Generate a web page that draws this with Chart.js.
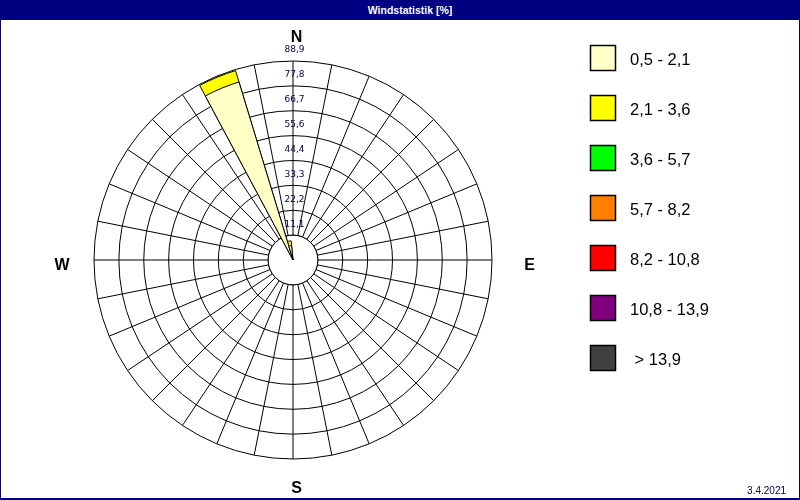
<!DOCTYPE html>
<html><head><meta charset="utf-8">
<script src="https://cdn.jsdelivr.net/npm/chart.js@4.4.1/dist/chart.umd.min.js"></script>
<style>
html,body{margin:0;padding:0;background:#fff;}
#frame{position:relative;width:800px;height:500px;background:#000080;overflow:hidden;}
#title{position:absolute;left:10px;top:0;width:800px;height:20px;color:#fff;font:bold 10.5px 'Liberation Sans',Arial,sans-serif;line-height:20px;text-align:center;}
#plot{position:absolute;left:1px;top:20px;width:798px;height:478px;background:#fff;}
canvas{display:block;}
</style></head><body>
<div id="frame"><div id="title">Windstatistik [%]</div><div id="plot"><canvas id="c" width="798" height="478"></canvas></div></div>
<script>
// 32 wind directions (degrees, clockwise from north)
const directions = ['0','11.25','22.5','33.75','45','56.25','67.5','78.75','90','101.25','112.5','123.75','135','146.25','157.5','168.75',
  '180','191.25','202.5','213.75','225','236.25','247.5','258.75','270','281.25','292.5','303.75','315','326.25','337.5','348.75'];
const compassLabels = ['N','E','S','W'];
const ringValues = [11.11, 22.22, 33.33, 44.44, 55.56, 66.67, 77.78, 88.89];
const ringLabels = ['11,1','22,2','33,3','44,4','55,6','66,7','77,8','88,9'];
const classLabels = ['0,5 - 2,1','2,1 - 3,6','3,6 - 5,7','5,7 - 8,2','8,2 - 10,8','10,8 - 13,9',' > 13,9'];
const classColors = ['#ffffc6','#ffff00','#00ff00','#ff8000','#ff0000','#800080','#404040'];
// frequency [%] per direction for each wind-speed class
const class1 = [0,0,0,0,0,0,0,0,0,0,0,0,0,0,0,0,0,0,0,0,0,0,0,0,0,0,0,0,0,0,83.1,6.5];
const class2 = [0,0,0,0,0,0,0,0,0,0,0,0,0,0,0,0,0,0,0,0,0,0,0,0,0,0,0,0,0,0,5.3,2.1];
const class3 = [0,0,0,0,0,0,0,0,0,0,0,0,0,0,0,0,0,0,0,0,0,0,0,0,0,0,0,0,0,0,0,0];
const class4 = [0,0,0,0,0,0,0,0,0,0,0,0,0,0,0,0,0,0,0,0,0,0,0,0,0,0,0,0,0,0,0,0];
const class5 = [0,0,0,0,0,0,0,0,0,0,0,0,0,0,0,0,0,0,0,0,0,0,0,0,0,0,0,0,0,0,0,0];
const class6 = [0,0,0,0,0,0,0,0,0,0,0,0,0,0,0,0,0,0,0,0,0,0,0,0,0,0,0,0,0,0,0,0];
const class7 = [0,0,0,0,0,0,0,0,0,0,0,0,0,0,0,0,0,0,0,0,0,0,0,0,0,0,0,0,0,0,0,0];
const dateText = '3.4.2021';

const classes = [class1, class2, class3, class4, class5, class6, class7];
// stacked (cumulative) values; dataset 0 is drawn on top by Chart.js
const cum = directions.map(() => 0);
const datasets = classes.map((arr, k) => {
  const data = arr.map((v, i) => { cum[i] += v; return v > 0 ? cum[i] : 0; });
  return {
    label: classLabels[k], data, rAxisID: 'r',
    backgroundColor: classColors[k], borderColor: '#000000', borderWidth: 1
  };
});

const FONT = "'Liberation Sans', Arial, sans-serif";

const roseExtras = {
  id: 'roseExtras',
  beforeDatasetsDraw(chart) {
    const s = chart.scales.r, ctx = chart.ctx;
    const r0 = s.getDistanceFromCenterForValue(ringValues[0]);
    ctx.save();
    ctx.beginPath();
    ctx.arc(s.xCenter, s.yCenter, r0, 0, Math.PI * 2);
    ctx.fillStyle = '#ffffff';
    ctx.fill();
    ctx.strokeStyle = '#000000';
    ctx.lineWidth = 1;
    ctx.stroke();
    ctx.restore();
  },
  afterDatasetsDraw(chart) {
    const s = chart.scales.r, ctx = chart.ctx;
    const cx = s.xCenter, cy = s.yCenter, R = s.drawingArea;
    ctx.save();
    // ring labels
    ctx.font = "9px 'DejaVu Sans', sans-serif";
    ctx.fillStyle = '#000050';
    ctx.textAlign = 'center';
    ctx.textBaseline = 'alphabetic';
    ringValues.forEach((v, i) => {
      ctx.fillText(ringLabels[i], cx + 1.5, cy - s.getDistanceFromCenterForValue(v) - 8.5);
    });
    // compass letters
    ctx.font = "bold 16px " + FONT;
    ctx.fillStyle = '#000000';
    ctx.fillText(compassLabels[0], cx + 3.5, cy - R - 19);
    ctx.fillText(compassLabels[1], cx + R + 37.5, cy + 10);
    ctx.fillText(compassLabels[2], cx + 3.5, cy + R + 34);
    ctx.fillText(compassLabels[3], cx - R - 32, cy + 10);
    // legend
    ctx.textAlign = 'left';
    ctx.font = "16.5px " + FONT;
    classLabels.forEach((lab, k) => {
      const y = 25 + k * 50;
      ctx.fillStyle = classColors[k];
      ctx.fillRect(589, y, 25, 25);
      ctx.strokeStyle = '#000000';
      ctx.lineWidth = 1.5;
      ctx.strokeRect(589.5, y + 0.5, 25, 25);
      ctx.fillStyle = '#000000';
      ctx.fillText(lab, 629, y + 20);
    });
    // date
    ctx.font = "10px " + FONT;
    ctx.fillStyle = '#000040';
    ctx.textAlign = 'right';
    ctx.fillText(dateText, 785, 473.5);
    ctx.restore();
  }
};

const scaleBase = {
  type: 'radialLinear', min: 0, max: 800 / 9,
  ticks: { display: false, stepSize: 100 / 9 },
  pointLabels: { display: false },
  grid: { circular: true, color: '#000000', lineWidth: 1 }
};

new Chart(document.getElementById('c'), {
  type: 'polarArea',
  data: { labels: directions, datasets },
  options: {
    responsive: false,
    animation: false,
    events: [],
    layout: { padding: { left: 93, right: 307, top: 41, bottom: 39 } },
    plugins: { legend: { display: false }, tooltip: { enabled: false }, title: { display: false } },
    scales: {
      r: Object.assign({}, scaleBase, { display: false, startAngle: -5.625 }),
      rGrid: Object.assign({}, scaleBase, {
        axis: 'r', display: true, startAngle: 0,
        angleLines: { display: true, color: '#000000', lineWidth: 1 }
      })
    }
  },
  plugins: [roseExtras]
});
</script>
</body></html>
